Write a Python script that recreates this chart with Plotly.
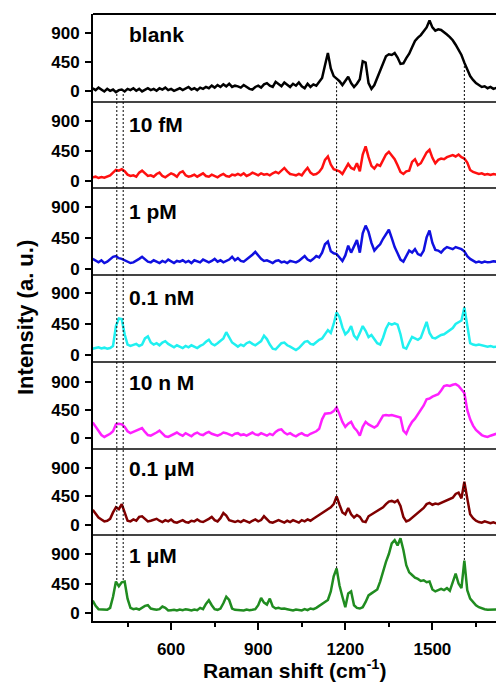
import plotly.graph_objects as go
from plotly.subplots import make_subplots

raman_shift = list(range(330, 1721, 10))

blank = [40, 10, 50, 20, -10, 30, 0, 20, -20, 10,
         20, -10, 30, 10, 40, 0, 30, -10, 20, 40,
         10, 30, 0, 40, 20, 50, 10, 30, 0, 20,
         40, 10, 30, 60, 20, 40, 10, 50, 30, 60,
         40, 80, 50, 90, 60, 100, 70, 110, 60, 80,
         70, 50, 90, 60, 30, 20, 60, 80, 50, 100,
         120, 80, 60, 140, 100, 70, 130, 90, 60, 110,
         80, 130, 70, 40, 110, 60, 100, 80, 150, 200,
         400, 590, 350, 230, 190, 150, 90, 150, 220, 120,
         60, 110, 180, 460, 440, 120, 30, 90, 200, 300,
         420, 540, 570, 560, 590, 520, 420, 430, 510, 580,
         680, 780, 830, 870, 930, 990, 1100, 990, 940, 960,
         950, 920, 880, 840, 790, 720, 640, 560, 440, 320,
         230, 170, 120, 90, 60, 70, 40, 60, 30, 45]

fm10 = [60, 70, 50, 65, 55, 70, 90, 130, 170, 160,
        180, 150, 100, 80, 90, 70, 130, 160, 120, 80,
        90, 70, 110, 130, 80, 60, 90, 120, 100, 70,
        130, 150, 90, 70, 80, 100, 70, 90, 120, 80,
        70, 100, 80, 60, 90, 110, 80, 70, 100, 90,
        110, 90, 120, 80, 100, 130, 110, 90, 120, 100,
        110, 90, 120, 140, 120, 160, 200, 150, 110, 100,
        90, 110, 90, 150, 200, 130, 100, 110, 140, 200,
        320, 370, 250, 180, 160, 150, 110, 180, 260, 200,
        180, 270, 150, 400, 520, 360, 230, 190, 250, 230,
        310, 400, 440, 380, 330, 240, 140, 110, 150, 160,
        290, 330, 240, 270, 340, 430, 470, 350, 270, 320,
        340, 330, 360, 380, 390, 370, 400, 360, 340, 280,
        170, 140, 130, 110, 120, 100, 110, 95, 110, 100]

pm1 = [150, 120, 100, 130, 90, 110, 150, 180, 190, 160,
       150, 130, 110, 90, 100, 120, 150, 180, 140, 110,
       100, 130, 110, 90, 120, 100, 140, 110, 90, 120,
       110, 130, 100, 120, 90, 130, 110, 100, 140, 120,
       100, 120, 150, 110, 130, 100, 120, 140, 180, 130,
       160, 120, 110, 140, 170, 210, 250, 200, 150, 120,
       130, 110, 90, 120, 130, 100, 110, 90, 120, 110,
       100, 120, 150, 190, 140, 120, 150, 190, 170, 240,
       360, 400, 260, 230, 220, 170, 120, 200, 340, 240,
       330, 420, 240, 520, 630, 540, 380, 270, 320, 360,
       440, 510, 570, 450, 320, 230, 140, 110, 200, 270,
       240, 290, 220, 200, 270, 460, 560, 380, 280, 270,
       240, 290, 320, 310, 290, 320, 310, 290, 260, 190,
       150, 120, 100, 110, 95, 110, 100, 105, 115, 110]

nm01 = [90, 100, 110, 95, 105, 90, 100, 130, 420, 530,
        520, 300, 150, 130, 140, 160, 130, 150, 240, 270,
        180, 150, 170, 140, 180, 200, 160, 130, 110, 140,
        120, 100, 130, 110, 140, 120, 100, 130, 150, 190,
        220, 160, 140, 170, 200, 240, 330, 250, 180, 150,
        120, 150, 130, 170, 190, 160, 140, 170, 200, 280,
        230, 150, 90, 80, 130, 170, 180, 140, 120, 90,
        70, 100, 140, 190, 200, 160, 150, 190, 220, 240,
        300, 360, 320, 450, 620, 550, 400, 300, 340, 420,
        280, 230, 320, 420, 350, 260, 290, 230, 170, 150,
        250, 380, 460, 440, 460, 440, 300, 110, 90, 180,
        260, 240, 220, 250, 380, 480, 320, 250, 240, 270,
        290, 300, 330, 360, 390, 450, 480, 500, 690, 400,
        170, 150, 140, 150, 140, 130, 120, 130, 115, 120]

nm10 = [250, 180, 110, 50, 20, 40, 70, 110, 220, 230,
        220, 180, 110, 80, 100, 120, 150, 160, 100, 50,
        40, 60, 90, 120, 70, 30, 20, 40, 60, 90,
        60, 40, 80, 50, 30, 70, 90, 60, 50, 80,
        100, 70, 50, 40, 60, 90, 80, 60, 40, 70,
        80, 50, 60, 40, 70, 90, 60, 50, 80, 60,
        40, 70, 50, 100, 130, 140, 90, 60, 80, 50,
        30, 60, 80, 50, 40, 70, 90, 110, 150, 300,
        390, 390, 400, 430, 490, 380, 260, 180, 230, 260,
        170, 120, 40, 180, 260, 220, 200, 170, 200, 290,
        360, 370, 360, 370, 360, 350, 330, 120, 70, 180,
        260, 310, 380, 450, 520, 620, 630, 660, 680, 700,
        760, 830, 840, 830, 850, 860, 830, 770, 720, 450,
        300, 200, 130, 90, 50, 30, 20, 40, 60, 70]

um01 = [240, 170, 120, 90, 60, 70, 100, 200, 280, 250,
        330, 200, 70, 60, 90, 70, 130, 140, 100, 60,
        70, 90, 100, 70, 50, 80, 60, 90, 50, 40,
        60, 80, 50, 40, 70, 60, 90, 60, 50, 70,
        100, 130, 80, 60, 110, 190, 150, 80, 60, 50,
        70, 50, 80, 60, 40, 70, 90, 60, 80, 140,
        90, 50, 40, 60, 80, 60, 40, 70, 50, 80,
        60, 40, 80, 60, 90, 70, 100, 130, 150, 190,
        210, 250, 280, 330, 450, 320, 200, 170, 270, 170,
        120, 160, 130, 60, 50, 140, 170, 200, 230, 250,
        280, 330, 370, 380, 360, 390, 300, 130, 60, 80,
        120, 160, 200, 240, 270, 330, 350, 320, 340, 330,
        350, 370, 390, 400, 430, 490, 510, 420, 680, 420,
        170, 110, 70, 50, 40, 60, 40, 30, 45, 30]

um1 = [190, 110, 60, 55, 60, 50, 80, 250, 480, 410,
       470, 480, 220, 80, 60, 70, 55, 80, 110, 120,
       70, 60, 50, 60, 100, 80, 40, 45, 50, 40,
       55, 45, 60, 50, 40, 55, 45, 80, 60, 140,
       195, 120, 60, 50, 70, 150, 250, 200, 70, 50,
       45, 50, 40, 55, 45, 50, 60, 120, 230, 160,
       130, 220, 100, 70, 80, 65, 70, 60, 45, 40,
       55, 50, 40, 60, 45, 70, 60, 80, 110, 130,
       160, 200, 330, 560, 680, 420, 250, 90, 300, 330,
       120, 80, 70, 90, 170, 270, 300, 330, 360, 480,
       650, 780, 900, 1060, 1110, 1030, 1140, 960, 730, 620,
       580, 540, 520, 490, 500, 470, 480, 360, 330, 350,
       370, 350, 380, 340, 470, 600, 450, 380, 800, 350,
       220, 170, 120, 90, 70, 60, 50, 55, 50, 55]

series = [blank, fm10, pm1, nm01, nm10, um01, um1]
labels = ["blank", "10 fM", "1 pM", "0.1 nM", "10 n M", "0.1 \u03bcM", "1 \u03bcM"]
colors = ["#000000", "#ff1010", "#1010e0", "#20f0f0", "#ff20ff", "#800000", "#208c20"]
y_ranges = [[-155, 1200], [-90, 1200], [-70, 1180], [-87, 1175],
            [-149, 1230], [-142, 1215], [-120, 1200]]
y_ticks = [0, 450, 900]
x_ticks = [600, 900, 1200, 1500]
x_minor = [450, 750, 1050, 1350, 1650]
marker_lines = [413, 435, 1170, 1610]

W, H = 496, 682
L, R, T, B = 93, 0, 14, 61
ph = H - T - B

fig = make_subplots(rows=7, cols=1, shared_xaxes=True, vertical_spacing=0)
font = "Liberation Sans, Arial, sans-serif"

for i, (vals, col) in enumerate(zip(series, colors)):
    fig.add_trace(go.Scatter(x=raman_shift, y=vals, mode="lines",
                             line=dict(color=col, width=2.5),
                             showlegend=False), row=i + 1, col=1)
    fig.update_yaxes(range=y_ranges[i], tickvals=y_ticks, ticks="outside",
                     ticklen=6, tickwidth=1.5, tickcolor="black",
                     showline=True, linecolor="black", linewidth=2,
                     showgrid=False, zeroline=False, ticklabelstandoff=2,
                     tickfont=dict(family=font, size=17, color="black", weight="bold"),
                     row=i + 1, col=1)
    fig.update_xaxes(range=[331, 1719], showgrid=False, zeroline=False,
                     showline=True, linecolor="#444444", linewidth=2,
                     ticks="", row=i + 1, col=1)

fig.update_xaxes(tickvals=x_ticks, ticks="outside", ticklen=7, tickwidth=1.5,
                 tickcolor="black", linecolor="black", ticklabelstandoff=5,
                 minor=dict(tickmode="array", tickvals=x_minor, ticks="outside",
                            ticklen=4, tickwidth=1.5, tickcolor="black"),
                 tickfont=dict(family=font, size=17, color="black", weight="bold"),
                 row=7, col=1)

# top border
fig.add_shape(type="line", xref="paper", yref="paper", x0=0, x1=1, y0=1, y1=1,
              line=dict(color="black", width=2))

# dotted marker lines
line_spans = [(0.870, 0.0675), (0.870, 0.0675), (0.888, 0.087), (0.921, 0.1005)]
for xv, (ya, yb) in zip(marker_lines, line_spans):
    fig.add_shape(type="line", xref="x7", yref="paper", x0=xv, x1=xv, y0=yb, y1=ya,
                  line=dict(color="black", width=1, dash="2px,2px"))

# panel labels
label_centers = [34, 125, 211, 297, 382, 468, 555]
for lab, yc in zip(labels, label_centers):
    fig.add_annotation(xref="paper", yref="paper", x=(127 - L) / (W - L - R),
                       y=(H - B - yc) / ph, xanchor="left", yanchor="middle",
                       text="<b>" + lab + "</b>", showarrow=False,
                       font=dict(family=font, size=21, color="black"))

fig.add_annotation(xref="paper", yref="paper", x=(294 - L) / (W - L - R),
                   y=-(669 - (H - B)) / ph, xanchor="center", yanchor="middle",
                   text="<b>Raman shift (cm<sup>-1</sup>)</b>", showarrow=False,
                   font=dict(family=font, size=21, color="black"))
fig.add_annotation(xref="paper", yref="paper", x=(25 - L) / (W - L - R),
                   y=(H - B - 318) / ph, xanchor="center", yanchor="middle",
                   text="<b>Intensity (a. u.)</b>", textangle=-90, showarrow=False,
                   font=dict(family=font, size=22, color="black"))

fig.update_layout(width=W, height=H, margin=dict(l=L, r=R, t=T, b=B),
                  paper_bgcolor="white", plot_bgcolor="white")

fig.write_html("out.html", config={"displayModeBar": False},
               post_script="document.body.style.margin='0';document.body.style.overflow='hidden';")
